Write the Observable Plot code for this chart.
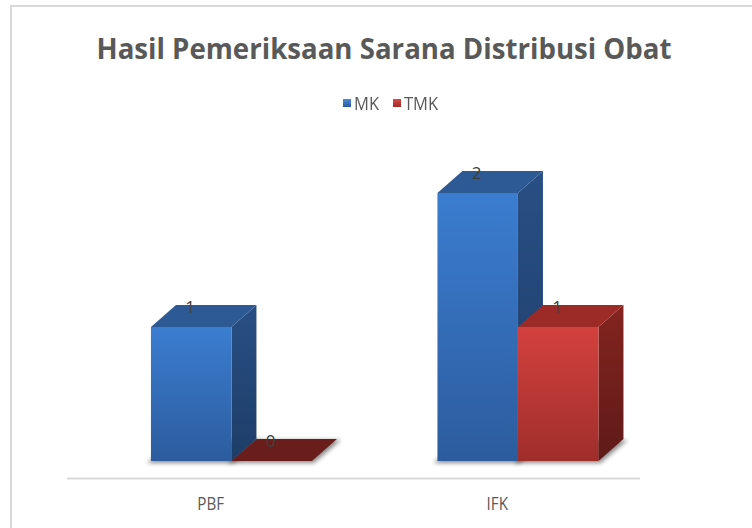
<!DOCTYPE html>
<html><head><meta charset="utf-8">
<script src="https://cdn.jsdelivr.net/npm/d3@7"></script>
<script src="https://cdn.jsdelivr.net/npm/@observablehq/plot@0.6"></script>
<style>
body{margin:0;background:#fff;}
#wrap{position:relative;width:752px;height:528px;overflow:hidden;font-family:"Open Sans",sans-serif;background:#fff;}
.bt{position:absolute;left:10px;top:5px;right:0;height:2px;background:#d9d9d9;}
.bl{position:absolute;left:10px;top:5px;bottom:0;width:2px;background:#d9d9d9;}
#header{position:relative;height:120px;}
#title{position:absolute;top:30px;left:384px;white-space:nowrap;font-weight:700;font-size:28px;color:#595959;transform-origin:0 0;line-height:36px;}
#legend{position:absolute;top:92px;left:343px;display:flex;align-items:center;font-size:18px;color:#595959;line-height:22px;}
.sw{width:8px;height:8px;display:inline-block;margin-right:3px;}
.item{display:flex;align-items:center;}
.lt{display:inline-block;transform-origin:0 50%;transform:scaleX(0.92);}
#chart{position:absolute;top:120px;left:0;}
</style></head>
<body>
<div id="wrap">
  <div class="bt"></div><div class="bl"></div>
  <div id="header">
    <div id="title">Hasil Pemeriksaan Sarana Distribusi Obat</div>
    <div id="legend"></div>
  </div>
  <div id="chart"></div>
</div>
<script>
// ---- data ----
const categories = ["PBF", "IFK"];
const seriesNames = ["MK", "TMK"];
const mkValues = [1, 2];
const tmkValues = [0, 1];

const rows = categories.flatMap((c, i) => [
  {cat: c, series: "MK", value: mkValues[i]},
  {cat: c, series: "TMK", value: tmkValues[i]}
]);

// ---- layout ----
const W = 752, H = 408, ML = 67, MR = 112, MT = 73, MB = 67;
const bw = (W - ML - MR) / categories.length;
const offL = 0.293 * bw, fw = 0.281 * bw, DX = 25, DY = 22;

const palette = {
  MK:  {front: ["#3b7dd0", "#2c5c9e"], side: ["#284f84", "#1e3d68"], top: "#2d5a95", flat: "#2d5a95", sw: ["#4a8ad8", "#2a5a9a"]},
  TMK: {front: ["#d3413e", "#9f2e2b"], side: ["#84241f", "#5e1a18"], top: "#9c2b28", flat: "#6a1e1c", sw: ["#d84a46", "#a02a28"]}
};

// legend
const legend = document.getElementById("legend");
const legendWidths = [50, 50];
seriesNames.forEach((s, i) => {
  const it = document.createElement("div"); it.className = "item";
  it.style.width = legendWidths[i] + "px";
  const sw = document.createElement("span"); sw.className = "sw";
  sw.style.background = `linear-gradient(${palette[s].sw[0]}, ${palette[s].sw[1]})`;
  const tx = document.createElement("span"); tx.className = "lt"; tx.textContent = s;
  it.appendChild(sw); it.appendChild(tx); legend.appendChild(it);
});

// title fit
const title = document.getElementById("title");
const tw = title.getBoundingClientRect().width;
const k = 575 / tw;
title.style.transform = `scaleX(${k}) translateX(-50%)`;

function bars3d(index, scales, values, dims, context) {
  const g = d3.create("svg:g");
  const defs = g.append("defs");
  for (const s of seriesNames) {
    const p = palette[s];
    const lf = defs.append("linearGradient").attr("id", `f-${s}`).attr("x1", 0).attr("y1", 0).attr("x2", 0).attr("y2", 1);
    lf.append("stop").attr("offset", "0%").attr("stop-color", p.front[0]);
    lf.append("stop").attr("offset", "100%").attr("stop-color", p.front[1]);
    const ls = defs.append("linearGradient").attr("id", `s-${s}`).attr("x1", 0).attr("y1", 0).attr("x2", 0).attr("y2", 1);
    ls.append("stop").attr("offset", "0%").attr("stop-color", p.side[0]);
    ls.append("stop").attr("offset", "100%").attr("stop-color", p.side[1]);
  }
  const f = defs.append("filter").attr("id", "shadowblur").attr("x", "-20%").attr("y", "-50%").attr("width", "140%").attr("height", "200%");
  f.append("feGaussianBlur").attr("stdDeviation", 2.2);

  const pts = a => a.map(p => p.join(",")).join(" ");
  for (const i of index) {
    const d = rows[i];
    const x0 = scales.x(d.cat) + offL + seriesNames.indexOf(d.series) * fw;
    const x1 = x0 + fw;
    const yb = scales.y(0);
    g.append("polygon")
      .attr("points", pts([[x0 - 4, yb + 2], [x1 + 2, yb + 2], [x1 + DX + 4, yb - DY + 1], [x0 + DX, yb - DY + 1]]))
      .attr("fill", "rgba(0,0,0,0.45)").attr("filter", "url(#shadowblur)");
  }
  for (const i of index) {
    const d = rows[i], p = palette[d.series];
    const x0 = scales.x(d.cat) + offL + seriesNames.indexOf(d.series) * fw;
    const x1 = x0 + fw;
    const yb = scales.y(0), yt = scales.y(d.value);
    const h = yb - yt;
    if (h > 0.5) {
      g.append("polygon").attr("points", pts([[x1, yt], [x1 + DX, yt - DY], [x1 + DX, yb - DY], [x1, yb]]))
        .attr("fill", `url(#s-${d.series})`);
      g.append("rect").attr("x", x0).attr("y", yt).attr("width", fw).attr("height", h)
        .attr("fill", `url(#f-${d.series})`);
    }
    g.append("polygon").attr("points", pts([[x0, yt], [x0 + DX, yt - DY], [x1 + DX, yt - DY], [x1, yt]]))
      .attr("fill", h > 0.5 ? p.top : p.flat);
  }
  return g.node();
}

const labelDx = s => offL + seriesNames.indexOf(s) * fw + 0.48 * fw - bw / 2;

const chart = Plot.plot({
  width: W, height: H,
  marginLeft: ML, marginRight: MR, marginTop: MT, marginBottom: MB,
  style: {color: "#595959", fontFamily: "'Open Sans', sans-serif", fontSize: "16px", background: "transparent", overflow: "visible"},
  x: {type: "band", domain: categories, padding: 0, round: false},
  y: {domain: [0, 2], axis: null},
  marks: [
    Plot.ruleY([0], {dy: 17, stroke: "#d9d9d9", strokeWidth: 2}),
    Plot.barY(rows, {x: "cat", y: "value", fill: "series", render: bars3d}),
    ...seriesNames.map(s => Plot.text(rows.filter(d => d.series === s), {
      x: "cat", y: "value", text: d => String(d.value),
      dx: labelDx(s), dy: -15, lineAnchor: "bottom", fontSize: 17, fill: "#404040"
    })),
    Plot.axisX({tickSize: 0, tickPadding: 35, fontSize: 19, label: null})
  ]
});
// narrow the axis tick labels (Calibri-like proportions)
chart.querySelectorAll('g[aria-label="x-axis tick label"] text').forEach(t => {
  const tr = t.getAttribute("transform") || "";
  t.setAttribute("transform", tr + " scale(0.8,1)");
});
document.getElementById("chart").appendChild(chart);
</script>
</body></html>
